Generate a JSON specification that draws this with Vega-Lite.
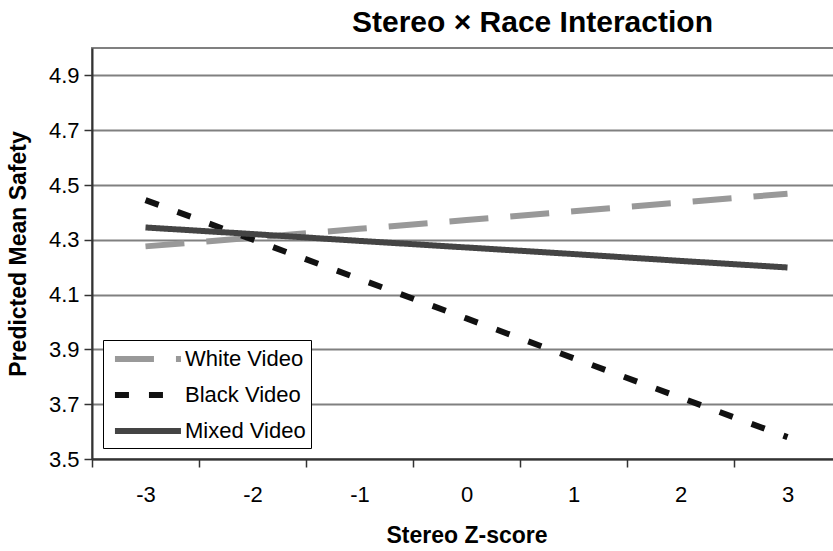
{
  "$schema": "https://vega.github.io/schema/vega-lite/v6.json",
  "width": 749,
  "height": 411,
  "autosize": {"type": "none"},
  "padding": {"left": 92, "top": 48, "right": 0, "bottom": 92},
  "background": "white",
  "title": {
    "text": "Stereo × Race Interaction",
    "font": "Liberation Sans",
    "fontSize": 30,
    "fontWeight": "bold",
    "color": "black",
    "anchor": "start",
    "frame": "group",
    "dx": 260,
    "offset": 10
  },
  "config": {
    "view": {"stroke": "#808080", "strokeWidth": 2},
    "font": "Liberation Sans"
  },
  "data": {
    "values": [
      {"z": "-3", "video": "White Video", "safety": 4.276},
      {"z": "-2", "video": "White Video", "safety": 4.308},
      {"z": "-1", "video": "White Video", "safety": 4.34},
      {"z": "0", "video": "White Video", "safety": 4.372},
      {"z": "1", "video": "White Video", "safety": 4.404},
      {"z": "2", "video": "White Video", "safety": 4.436},
      {"z": "3", "video": "White Video", "safety": 4.468},
      {"z": "-3", "video": "Black Video", "safety": 4.445},
      {"z": "-2", "video": "Black Video", "safety": 4.301},
      {"z": "-1", "video": "Black Video", "safety": 4.157},
      {"z": "0", "video": "Black Video", "safety": 4.013},
      {"z": "1", "video": "Black Video", "safety": 3.868},
      {"z": "2", "video": "Black Video", "safety": 3.724},
      {"z": "3", "video": "Black Video", "safety": 3.58},
      {"z": "-3", "video": "Mixed Video", "safety": 4.345},
      {"z": "-2", "video": "Mixed Video", "safety": 4.321},
      {"z": "-1", "video": "Mixed Video", "safety": 4.296},
      {"z": "0", "video": "Mixed Video", "safety": 4.272},
      {"z": "1", "video": "Mixed Video", "safety": 4.248},
      {"z": "2", "video": "Mixed Video", "safety": 4.223},
      {"z": "3", "video": "Mixed Video", "safety": 4.199}
    ]
  },
  "mark": {"type": "line", "strokeWidth": 6, "strokeCap": "butt"},
  "encoding": {
    "x": {
      "field": "z",
      "type": "ordinal",
      "sort": ["-3", "-2", "-1", "0", "1", "2", "3"],
      "scale": {"type": "band", "paddingInner": 0, "paddingOuter": 0},
      "axis": {
        "title": "Stereo Z-score",
        "titleFont": "Liberation Sans",
        "titleFontSize": 23,
        "titleFontWeight": "bold",
        "titleColor": "black",
        "titlePadding": 19,
        "labelAngle": 0,
        "labelFont": "Liberation Sans",
        "labelFontSize": 22,
        "labelColor": "black",
        "labelPadding": 17,
        "tickBand": "extent",
        "tickSize": 8,
        "tickColor": "#333",
        "tickWidth": 1.5,
        "domainColor": "#333",
        "domainWidth": 2,
        "grid": false
      }
    },
    "y": {
      "field": "safety",
      "type": "quantitative",
      "scale": {"domain": [3.5, 5.0], "nice": false, "zero": false},
      "axis": {
        "title": "Predicted Mean Safety",
        "titleFont": "Liberation Sans",
        "titleFontSize": 23,
        "titleFontWeight": "bold",
        "titleColor": "black",
        "titlePadding": 18,
        "values": [3.5, 3.7, 3.9, 4.1, 4.3, 4.5, 4.7, 4.9],
        "format": ".1f",
        "labelFont": "Liberation Sans",
        "labelFontSize": 22,
        "labelColor": "black",
        "labelPadding": 5,
        "tickSize": 8,
        "tickColor": "#333",
        "tickWidth": 1.5,
        "domainColor": "#333",
        "domainWidth": 2,
        "grid": true,
        "gridColor": "#808080",
        "gridWidth": 2
      }
    },
    "color": {
      "field": "video",
      "type": "nominal",
      "scale": {"domain": ["White Video", "Black Video", "Mixed Video"], "range": ["#999999", "#111111", "#444444"]},
      "legend": {
        "title": null,
        "orient": "none",
        "legendX": 11,
        "legendY": 292,
        "symbolType": "M-0.64,0L5.36,0",
        "symbolSize": 484,
        "symbolStrokeWidth": 6,
        "labelFont": "Liberation Sans",
        "labelFontSize": 22,
        "labelColor": "black",
        "labelOffset": 49,
        "rowPadding": 10,
        "strokeColor": "black",
        "padding": 5,
        "fillColor": "white"
      }
    },
    "strokeDash": {
      "field": "video",
      "type": "nominal",
      "scale": {"domain": ["White Video", "Black Video", "Mixed Video"], "range": [[39, 22], [14, 20], [1, 0]]},
      "legend": {
        "title": null,
        "orient": "none",
        "legendX": 11,
        "legendY": 292,
        "symbolType": "M-0.64,0L5.36,0",
        "symbolSize": 484,
        "symbolStrokeWidth": 6,
        "labelFont": "Liberation Sans",
        "labelFontSize": 22,
        "labelColor": "black",
        "labelOffset": 49,
        "rowPadding": 10,
        "strokeColor": "black",
        "padding": 5,
        "fillColor": "white"
      }
    }
  }
}
